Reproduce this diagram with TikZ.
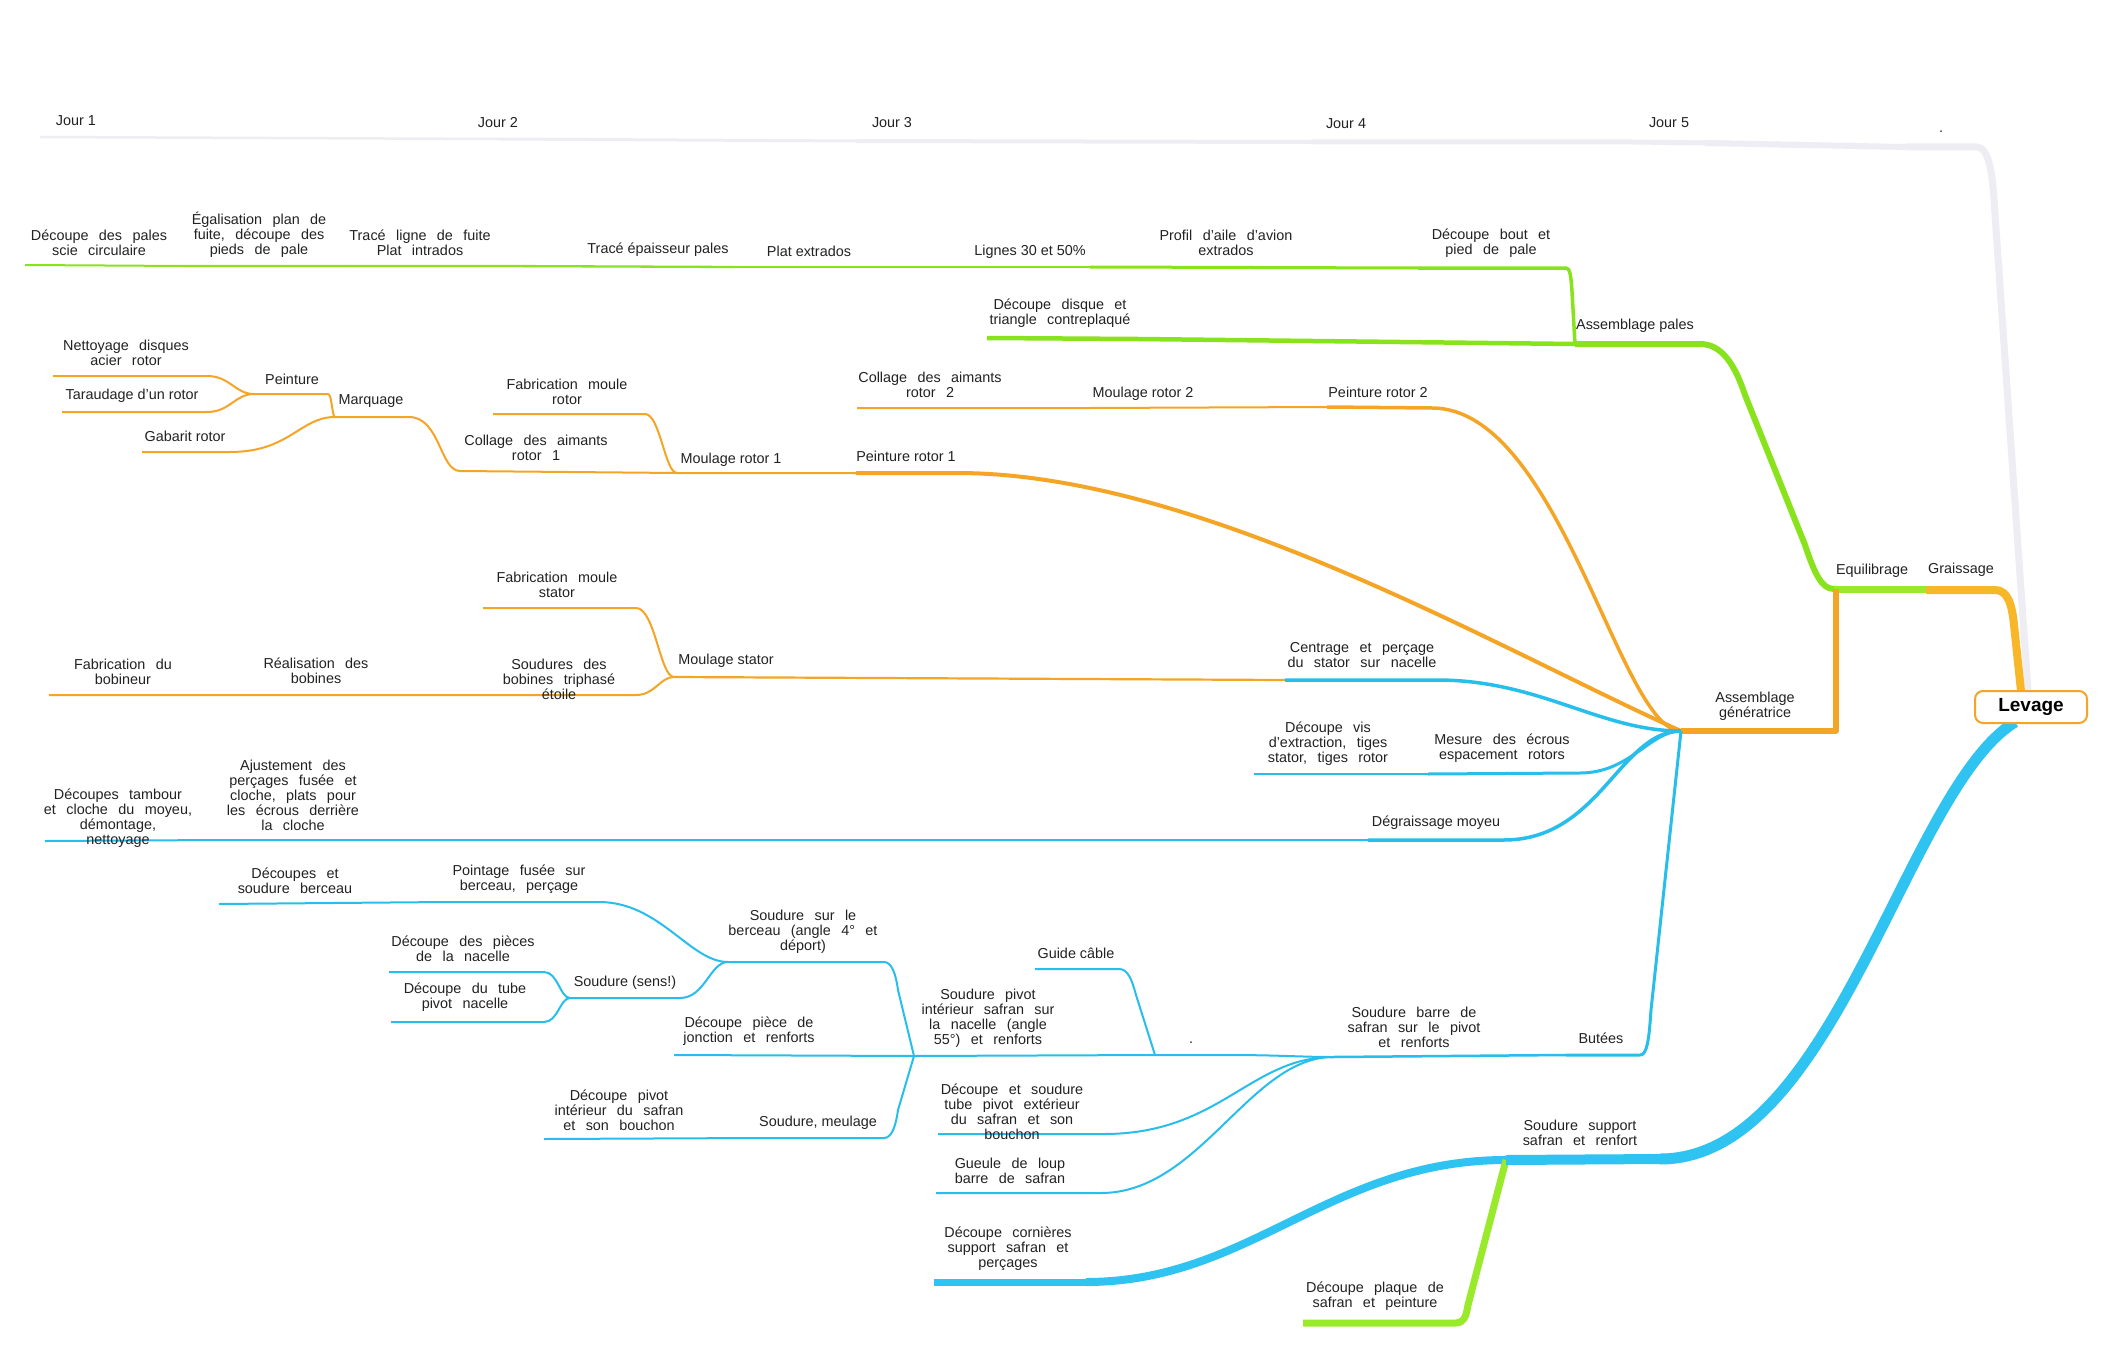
\documentclass[tikz,border=0pt]{standalone}
\usepackage{fontspec}
\setmainfont{Liberation Sans}
\definecolor{grn}{RGB}{136,226,28}
\definecolor{grnL}{RGB}{152,234,42}
\definecolor{org}{RGB}{245,165,38}
\definecolor{yel}{RGB}{247,183,40}
\definecolor{blu}{RGB}{40,190,236}
\definecolor{bluD}{RGB}{46,195,240}
\definecolor{gry}{RGB}{238,237,243}
\definecolor{txt}{RGB}{34,34,34}
\begin{document}
\begin{tikzpicture}[x=1pt,y=-1pt,line join=round,
  lbl/.style={font=\fontsize{14.4}{15}\selectfont,text=txt,inner sep=0pt,align=center},
  wl/.style={lbl,execute at begin node={\spaceskip=10.4pt plus 1pt minus 1pt\relax}},
  dotlbl/.style={lbl,anchor=base},
  gline/.style={grn,line width=#1},
  oline/.style={org,line width=#1},
  bline/.style={blu,line width=#1}]
\useasboundingbox (0,0) rectangle (2124,1348);
\fill[white] (0,0) rectangle (2124,1348);

% ---------- coordinates ----------
% timeline
\coordinate (j1L) at (40,137);   \coordinate (j2L) at (500,139);
\coordinate (j3L) at (856,141);  \coordinate (j4L) at (1311,142);
\coordinate (j5L) at (1633,142); \coordinate (j6L) at (1705,143);
\coordinate (dtL) at (1906,147); \coordinate (dtR) at (1977,147);
\coordinate (levG) at (2028,691);
% green chain
\coordinate (t1L) at (25,265);  \coordinate (t1R) at (184,266);
\coordinate (t2R) at (344,266); \coordinate (t3R) at (500,266);
\coordinate (t4R) at (735,267); \coordinate (t5R) at (856,267);
\coordinate (t6R) at (1090,267);\coordinate (t7R) at (1418,268);
\coordinate (t8R) at (1566,268);
\coordinate (t9L) at (987,338); \coordinate (t9R) at (1138,339);
\coordinate (apL) at (1575,344);\coordinate (apR) at (1700,344);
\coordinate (eqL) at (1834,589);\coordinate (eqR) at (1926,589);
\coordinate (grL) at (1926,590);\coordinate (grR) at (1995,590);
\coordinate (levY) at (2021,691);
% rotor
\coordinate (a1L) at (53,376);  \coordinate (a1R) at (207,376);
\coordinate (a2L) at (62,412);  \coordinate (a2R) at (207,412);
\coordinate (pnL) at (254,394); \coordinate (pnR) at (328,394);
\coordinate (gbL) at (142,452); \coordinate (gbR) at (230,452);
\coordinate (mqL) at (335,417); \coordinate (mqR) at (409,417);
\coordinate (c1L) at (460,471); \coordinate (c1R) at (677,473);
\coordinate (fmL) at (493,414); \coordinate (fmR) at (645,414);
\coordinate (m1R) at (856,473); \coordinate (p1R) at (957,473);
\coordinate (c2L) at (857,408); \coordinate (c2R) at (1090,408);
\coordinate (m2R) at (1327,407);\coordinate (p2R) at (1432,408);
\coordinate (agL) at (1681,731);\coordinate (agR) at (1836,731);
\coordinate (agT) at (1836,589);
% stator
\coordinate (fsL) at (483,608); \coordinate (fsR) at (636,608);
\coordinate (fbL) at (49,695);  \coordinate (fbR) at (241,695);
\coordinate (rbR) at (483,695); \coordinate (sbR) at (636,695);
\coordinate (msL) at (674,677); \coordinate (msR) at (1285,680);
\coordinate (ceR) at (1437,680);
% blue
\coordinate (dvL) at (1254,774); \coordinate (dvR) at (1428,774);
\coordinate (meR) at (1580,773);
\coordinate (dmL) at (45,841);   \coordinate (dmR) at (220,840);
\coordinate (ajR) at (1368,840); \coordinate (dgR) at (1504,840);
\coordinate (buL) at (1566,1055);\coordinate (buR) at (1640,1055);
\coordinate (sbaL) at (1333,1057);
\coordinate (dbL2) at (1155,1055);\coordinate (dbR2) at (1226,1055);
\coordinate (spL) at (914,1056);
\coordinate (gcL) at (1035,969); \coordinate (gcR) at (1119,969);
\coordinate (dsL) at (938,1134); \coordinate (dsR) at (1104,1134);
\coordinate (glL) at (936,1193); \coordinate (glR) at (1101,1193);
\coordinate (sbeL) at (728,962); \coordinate (sbeR) at (884,962);
\coordinate (djL) at (674,1055);
\coordinate (dpL) at (544,1139); \coordinate (dpR) at (758,1138);
\coordinate (smR) at (884,1138);
\coordinate (dbL) at (219,904);  \coordinate (dbR) at (446,902);
\coordinate (pfR) at (599,902);
\coordinate (ssL) at (570,998);  \coordinate (ssR) at (680,998);
\coordinate (dnL) at (389,972);  \coordinate (dnR) at (544,972);
\coordinate (duL) at (391,1022); \coordinate (duR) at (544,1022);
\coordinate (suL) at (1506,1160);\coordinate (suR) at (1660,1159);
\coordinate (dcL) at (934,1282); \coordinate (dcR) at (1086,1282);
\coordinate (dqL) at (1303,1323);\coordinate (dqR) at (1456,1323);
\coordinate (levB) at (2015,722);

% ---------- timeline ----------
\draw[gry,line width=2.5] (j1L) -- (j2L);
\draw[gry,line width=3] (j2L) -- (j3L);
\draw[gry,line width=4] (j3L) -- (j4L);
\draw[gry,line width=5] (j4L) -- (j5L) -- (j6L);
\draw[gry,line width=6] (j6L) -- (dtL);
\draw[gry,line width=7] (dtL) -- (dtR) .. controls (1988,147) and (1992,170) .. (1994,200) -- (levG);

% ---------- green ----------
\draw[gline=2] (t1L) -- (t1R) -- (t2R);
\draw[gline=2.3] (t2R) -- (t3R) -- (t4R);
\draw[gline=2.6] (t4R) -- (t5R) -- (t6R);
\draw[gline=3] (t6R) -- (t7R);
\draw[gline=3.5] (t7R) -- (t8R) .. controls (1570,268) and (1571,276) .. (1572,292) -- (apL);
\draw[gline=4.5] (t9L) -- (t9R) -- (apL);
\draw[gline=6] (apL) -- (apR) .. controls (1722,344) and (1735,365) .. (1745,395) -- (1805,545) .. controls (1815,575) and (1822,589) .. (eqL);
\draw[grnL,line width=7] (eqL) -- (eqR);
\draw[yel,line width=8] (grL) -- (grR) .. controls (2008,590) and (2012,605) .. (2014,625) -- (levY);

% ---------- orange rotor ----------
\draw[oline=2] (a1L) -- (a1R) .. controls (230,376) and (235,394) .. (pnL);
\draw[oline=2] (a2L) -- (a2R) .. controls (230,412) and (235,394) .. (pnL);
\draw[oline=2] (pnL) -- (pnR) .. controls (332,394) and (332,417) .. (mqL);
\draw[oline=2] (gbL) -- (gbR) .. controls (290,452) and (300,417) .. (mqL);
\draw[oline=2] (mqL) -- (mqR) .. controls (440,417) and (440,471) .. (c1L);
\draw[oline=2] (fmL) -- (fmR) .. controls (660,414) and (665,473) .. (c1R);
\draw[oline=2] (c1L) -- (c1R) -- (m1R);
\draw[oline=4] (m1R) -- (p1R) .. controls (1200,473) and (1500,650) .. (agL);
\draw[oline=2] (c2L) -- (c2R) -- (m2R);
\draw[oline=3.5] (m2R) -- (p2R) .. controls (1560,408) and (1620,731) .. (agL);
% stator
\draw[oline=2] (fsL) -- (fsR) .. controls (655,608) and (660,677) .. (msL);
\draw[oline=2] (fbL) -- (fbR) -- (rbR) -- (sbR) .. controls (655,695) and (660,677) .. (msL);
\draw[oline=2.2] (msL) -- (msR);
\draw[bline=3.5] (msR) -- (ceR) .. controls (1540,680) and (1600,731) .. (agL);
\draw[oline=5.5] (agL) -- (agR) -- (agT);

% ---------- blue ----------
\draw[bline=2] (dvL) -- (dvR);
\draw[bline=3] (dvR) -- (meR) .. controls (1630,773) and (1650,731) .. (agL);
\draw[bline=2] (dmL) -- (dmR) -- (ajR);
\draw[bline=3.5] (ajR) -- (dgR) .. controls (1600,840) and (1620,731) .. (agL);
\draw[bline=3] (buL) -- (buR) .. controls (1647,1055) and (1649,1040) .. (1651,1010) -- (agL);
\draw[bline=2.5] (sbaL) -- (buL);
\draw[bline=2] (dbL2) -- (dbR2) .. controls (1280,1055) and (1300,1057) .. (sbaL);
\draw[bline=2] (spL) -- (dbL2);
\draw[bline=2] (gcL) -- (gcR) .. controls (1128,969) and (1132,980) .. (1136,995) -- (dbL2);
\draw[bline=2] (dsL) -- (dsR) .. controls (1220,1134) and (1250,1057) .. (sbaL);
\draw[bline=2] (glL) -- (glR) .. controls (1200,1193) and (1250,1057) .. (sbaL);
\draw[bline=2] (sbeL) -- (sbeR) .. controls (892,962) and (896,975) .. (898,990) -- (spL);
\draw[bline=2] (djL) -- (spL);
\draw[bline=2] (dpL) -- (dpR) -- (smR) .. controls (892,1138) and (896,1125) .. (898,1110) -- (spL);
\draw[bline=2] (dbL) -- (dbR) -- (pfR) .. controls (660,902) and (690,962) .. (sbeL);
\draw[bline=2] (ssL) -- (ssR) .. controls (705,998) and (710,962) .. (sbeL);
\draw[bline=2] (dnL) -- (dnR) .. controls (558,972) and (560,998) .. (ssL);
\draw[bline=2] (duL) -- (duR) .. controls (558,1022) and (560,998) .. (ssL);
\draw[bluD,line width=7] (dcL) -- (dcR);
\draw[bluD,line width=8] (dcR) .. controls (1250,1282) and (1330,1160) .. (suL);
\draw[grnL,line width=7] (dqL) -- (dqR) .. controls (1463,1323) and (1466,1318) .. (1468,1305) -- (suL);
\draw[bluD,line width=10] (suL) -- (suR);
\draw[bluD,line width=11] (suR) .. controls (1835,1159) and (1905,790) .. (levB);

% ---------- labels ----------
\node[lbl] (jr1) at (76,121) {Jour 1};
\node[lbl] (jr2) at (498,123) {Jour 2};
\node[lbl] (jr3) at (892,123) {Jour 3};
\node[lbl] (jr4) at (1346,124) {Jour 4};
\node[lbl] (jr5) at (1669,123) {Jour 5};
\node[dotlbl] (dot1) at (1941,133) {.};

\node[wl] (n1) at (99,242.5) {Découpe des pales\\scie circulaire};
\node[wl] (n2) at (259,235) {Égalisation plan de\\fuite, découpe des\\pieds de pale};
\node[wl] (n3) at (420,242.5) {Tracé ligne de fuite\\Plat intrados};
\node[lbl] (n4) at (658,250) {Tracé épaisseur pales};
\node[lbl] (n5) at (809,251) {Plat extrados};
\node[lbl] (n6) at (1030,252) {Lignes 30 et 50\%};
\node[wl] (n7) at (1226,242.5) {Profil d'aile d'avion\\extrados};
\node[wl] (n8) at (1491,243.5) {Découpe bout et\\pied de pale};
\node[wl] (n9) at (1060,313.5) {Découpe disque et\\triangle contreplaqué};
\node[lbl] (n10) at (1635,326) {Assemblage pales};
\node[lbl] (n11) at (1872,571) {Equilibrage};
\node[lbl] (n12) at (1961,570) {Graissage};

\node[wl] (a1) at (126,352.5) {Nettoyage disques\\acier rotor};
\node[lbl] (a2) at (132,396) {Taraudage d'un rotor};
\node[lbl] (pn) at (292,379) {Peinture};
\node[lbl] (gb) at (185,436) {Gabarit rotor};
\node[lbl] (mq) at (371,401) {Marquage};
\node[wl] (fm) at (567,391.5) {Fabrication moule\\rotor};
\node[wl] (c1) at (536,447.5) {Collage des aimants\\rotor 1};
\node[lbl] (m1) at (731,460) {Moulage rotor 1};
\node[lbl] (p1) at (906,456) {Peinture rotor 1};
\node[wl] (c2) at (930,384.5) {Collage des aimants\\rotor 2};
\node[lbl] (m2) at (1143,394) {Moulage rotor 2};
\node[lbl] (p2) at (1378,392) {Peinture rotor 2};

\node[wl] (fs) at (557,584.5) {Fabrication moule\\stator};
\node[wl] (fb) at (123,671.5) {Fabrication du\\bobineur};
\node[wl] (rb) at (316,670.5) {Réalisation des\\bobines};
\node[wl] (sb) at (559,679) {Soudures des\\bobines triphasé\\étoile};
\node[lbl] (ms) at (726,661) {Moulage stator};
\node[wl] (ce) at (1362,655.5) {Centrage et perçage\\du stator sur nacelle};
\node[lbl] (ag) at (1755,706) {Assemblage\\génératrice};

\node[wl] (dv) at (1328,744) {Découpe vis\\d'extraction, tiges\\stator, tiges rotor};
\node[wl] (me) at (1502,748.5) {Mesure des écrous\\espacement rotors};
\node[wl] (dm) at (118,818.5) {Découpes tambour\\et cloche du moyeu,\\démontage,\\nettoyage};
\node[wl] (aj) at (293,795) {Ajustement des\\perçages fusée et\\cloche, plats pour\\les écrous derrière\\la cloche};
\node[lbl] (dg) at (1436,823) {Dégraissage moyeu};
\node[lbl] (bu) at (1601,1038) {Butées};
\node[wl] (sba) at (1414,1027) {Soudure barre de\\safran sur le pivot\\et renforts};
\node[dotlbl] (dot2) at (1191,1043) {.};
\node[wl] (sp) at (988,1018.5) {Soudure pivot\\intérieur safran sur\\la nacelle (angle\\55°) et renforts};
\node[lbl] (gc) at (1076,953) {Guide câble};
\node[wl] (ds) at (1012,1111.5) {Découpe et soudure\\tube pivot extérieur\\du safran et son\\bouchon};
\node[wl] (gl) at (1010,1170.5) {Gueule de loup\\barre de safran};
\node[wl] (sbe) at (803,932) {Soudure sur le\\berceau (angle 4° et\\déport)};
\node[wl] (dj) at (749,1031.5) {Découpe pièce de\\jonction et renforts};
\node[wl] (dp) at (619,1110) {Découpe pivot\\intérieur du safran\\et son bouchon};
\node[lbl] (sm) at (818,1123) {Soudure, meulage};
\node[wl] (db) at (295,880.5) {Découpes et\\soudure berceau};
\node[wl] (pf) at (519,879) {Pointage fusée sur\\berceau, perçage};
\node[lbl] (ss) at (625,983) {Soudure (sens!)};
\node[wl] (dn) at (463,948.5) {Découpe des pièces\\de la nacelle};
\node[wl] (du) at (465,997.5) {Découpe du tube\\pivot nacelle};
\node[wl] (su) at (1580,1132.5) {Soudure support\\safran et renfort};
\node[wl] (dc) at (1008,1249) {Découpe cornières\\support safran et\\perçages};
\node[wl] (dq) at (1375,1296.5) {Découpe plaque de\\safran et peinture};

% ---------- root ----------
\node[draw=org,line width=2,rounded corners=8pt,fill=white,minimum width=112pt,minimum height=32pt,inner sep=0pt,
  font=\fontsize{19}{19}\selectfont\bfseries,text=black] (lev) at (2031,707) {Levage};
\end{tikzpicture}
\end{document}
